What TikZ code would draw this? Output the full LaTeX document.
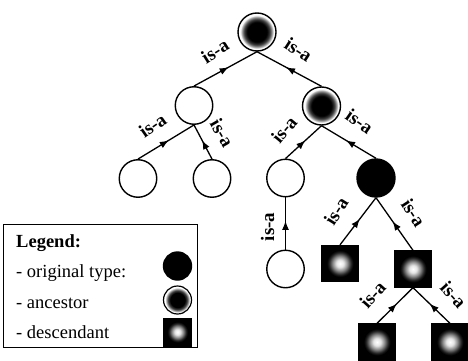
\documentclass[tikz,border=0pt]{standalone}
\usepackage{fontspec}
\setmainfont{Liberation Serif}
\usetikzlibrary{arrows.meta,decorations.markings}
\pgfdeclareradialshading{ancshade}{\pgfpointorigin}{color(0bp)=(black); color(13bp)=(black); color(17bp)=(black!75); color(20bp)=(black!35); color(22bp)=(white); color(25bp)=(white); color(50bp)=(white)}
\pgfdeclareradialshading{descshade}{\pgfpointorigin}{color(0bp)=(white); color(5bp)=(black!10); color(10bp)=(black!45); color(15bp)=(black!85); color(18bp)=(black); color(50bp)=(black)}
\tikzset{
  plain/.style={circle, draw, line width=1.4pt, fill=white, minimum size=37.5pt, inner sep=0pt},
  orig/.style={circle, draw, line width=1.4pt, fill=black, minimum size=38pt, inner sep=0pt},
  anc/.style={circle, draw, line width=1.4pt, shading=ancshade, minimum size=38pt, inner sep=0pt},
  desc/.style={rectangle, draw, line width=0.8pt, shading=descshade, minimum size=36.5pt, inner sep=0pt},
  isa/.style={line width=1.3pt, postaction={decorate},
    decoration={markings, mark=at position 0.55 with {\arrow{Latex[length=9pt,width=7pt]}}}},
  lbl/.style={font=\fontsize{19}{22}\selectfont\bfseries, inner sep=0pt},
  legtxt/.style={font=\fontsize{18.5}{22}\selectfont, inner sep=0pt, anchor=west},
}
\begin{document}
\begin{tikzpicture}[x=1pt,y=-1pt]
\useasboundingbox (0,0) rectangle (468,361);
% nodes
\node[anc] (root) at (257,32) {};
\node[plain] (A) at (194,105.5) {};
\node[anc] (B) at (321.5,106) {};
\node[plain] (LL) at (138,178.5) {};
\node[plain] (LR) at (212,178.5) {};
\node[plain] (C) at (285.5,178) {};
\node[orig] (D) at (376,178) {};
\node[plain] (E) at (285.5,269) {};
\node[desc] (F) at (340,263.5) {};
\node[desc] (G) at (413,269) {};
\node[desc] (H) at (377,342) {};
\node[desc] (I) at (450,342) {};
% edges
\draw[isa] (A.north) -- (root.south);
\draw[isa] (B.north) -- (root.south);
\draw[isa] (LL.north) -- (A.south);
\draw[isa] (LR.north) -- (A.south);
\draw[isa] (C.north) -- (B.south);
\draw[isa] (D.north) -- (B.south);
\draw[isa] (E.north) -- (C.south);
\draw[isa] (F.north) -- (D.south);
\draw[isa] (G.north) -- (D.south);
\draw[isa] (H.north) -- (G.south);
\draw[isa] (I.north) -- (G.south);
% labels
\node[lbl, rotate=32] (l1) at (215,51) {is-a};
\node[lbl, rotate=-33] (l2) at (298.5,49.5) {is-a};
\node[lbl, rotate=35] (l3) at (152.5,125.5) {is-a};
\node[lbl, rotate=-60] (l4) at (222,133) {is-a};
\node[lbl, rotate=50] (l5) at (284,129.5) {is-a};
\node[lbl, rotate=-35] (l6) at (359.5,121.5) {is-a};
\node[lbl, rotate=90] (l7) at (267.5,227) {is-a};
\node[lbl, rotate=58] (l8) at (336,211) {is-a};
\node[lbl, rotate=-57] (l9) at (413.5,212.5) {is-a};
\node[lbl, rotate=48] (l10) at (372.5,294.5) {is-a};
\node[lbl, rotate=-48] (l11) at (453.5,295) {is-a};
% legend
\node[draw, line width=1.2pt, minimum width=194pt, minimum height=123pt, anchor=north west, inner sep=0pt] (legend) at (3,224) {};
\node[legtxt, font=\fontsize{18.5}{22}\selectfont\bfseries] (lg0) at (16,243) {Legend:};
\node[legtxt] (lg1) at (16,273) {- original type:};
\node[legtxt] (lg2) at (16,303) {- ancestor};
\node[legtxt] (lg3) at (16,332) {- descendant};
\node[orig, minimum size=28pt] (s1) at (177.5,266) {};
\node[anc, minimum size=28pt, line width=1.2pt] (s2) at (177.5,300) {};
\node[desc, minimum size=28pt] (s3) at (177.5,332) {};
\end{tikzpicture}
\end{document}
